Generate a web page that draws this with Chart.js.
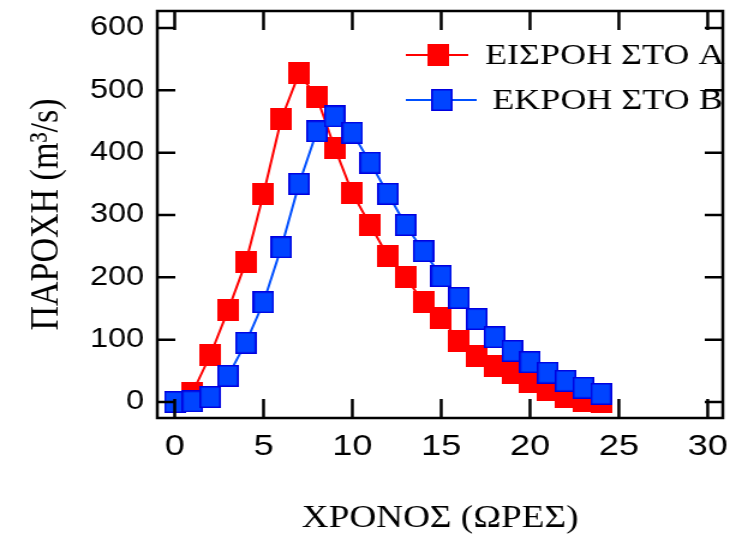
<!DOCTYPE html>
<html>
<head>
<meta charset="utf-8">
<title>ΠΑΡΟΧΗ</title>
<script src="https://cdn.jsdelivr.net/npm/chart.js@4.4.1/dist/chart.umd.min.js"></script>
<style>
  html, body { margin: 0; padding: 0; background: #fff; }
  #grafico { display: block; }
</style>
</head>
<body>
<!-- el original está estirado en horizontal: canvas estrecho, estilo a 736px -->
<canvas id="grafico" width="613" height="534" style="width:736px;height:534px"></canvas>
<script>
// Datos
const horas = [0, 1, 2, 3, 4, 5, 6, 7, 8, 9, 10, 11, 12, 13, 14, 15, 16, 17, 18, 19, 20, 21, 22, 23, 24];
const eisrohA = [0, 15, 75, 147, 224, 334, 454, 527, 489, 408, 335, 284, 234, 200, 160, 135, 98, 74, 58, 46, 32, 19, 8, 2, 0];
const ekrohB = [0, 1, 8, 42, 95, 160, 248, 350, 434, 458, 432, 384, 334, 284, 242, 202, 167, 133, 104, 82, 64, 47, 34, 23, 13];

const ticksX = [0, 5, 10, 15, 20, 25, 30];
const ticksY = [0, 100, 200, 300, 400, 500, 600];

const etiquetas = ['ΕΙΣΡΟΗ ΣΤΟ Α', 'ΕΚΡΟΗ ΣΤΟ Β'];
const tituloX = 'ΧΡΟΝΟΣ (ΩΡΕΣ)';
const tituloY = 'ΠΑΡΟΧΗ (m³/s)';

// Marcador cuadrado (más estrecho en el canvas porque luego se estira)
function crearMarcador(relleno, borde) {
    const c = document.createElement('canvas');
    c.width = 18;
    c.height = 22;
    const ctx = c.getContext('2d');
    ctx.fillStyle = borde;
    ctx.fillRect(0, 0, 18, 22);
    ctx.fillStyle = relleno;
    ctx.fillRect(1.5, 1.5, 15, 19);
    return c;
}

const marcadorRojo = crearMarcador('#ff0000', '#ff0000');
const marcadorAzul = crearMarcador('#0044ff', '#0000e0');

// Quitar el relleno que Chart.js reserva para las etiquetas de los extremos
function fijarTamano(prop, valor) {
    return s => {
        s[prop] = valor;
        s.paddingTop = 0;
        s.paddingBottom = 0;
        s.paddingLeft = 0;
        s.paddingRight = 0;
    };
}

// Marco con marcas hacia dentro en los cuatro lados
const marcoPlugin = {
    id: 'marco',
    afterDatasetsDraw(chart) {
        const { ctx, chartArea: a, scales: { x, y } } = chart;
        ctx.save();
        ctx.strokeStyle = '#000';
        ctx.lineWidth = 2.5;
        ctx.strokeRect(a.left, a.top, a.right - a.left, a.bottom - a.top);
        ctx.beginPath();
        ticksX.forEach(v => {
            const px = x.getPixelForValue(v);
            ctx.moveTo(px, a.bottom);
            ctx.lineTo(px, a.bottom - 19);
            ctx.moveTo(px, a.top);
            ctx.lineTo(px, a.top + 19);
        });
        ticksY.forEach(v => {
            const py = y.getPixelForValue(v);
            ctx.moveTo(a.left, py);
            ctx.lineTo(a.left + 15, py);
            ctx.moveTo(a.right, py);
            ctx.lineTo(a.right - 15, py);
        });
        ctx.stroke();
        ctx.restore();
    }
};

// Leyenda dentro del área del gráfico (línea + marcador + texto)
const posLeyenda = [
    { x1: 338, x2: 390, xm: 365, y: 55, xt: 404 },
    { x1: 338, x2: 397, xm: 368, y: 100, xt: 410 }
];

const leyendaPlugin = {
    id: 'leyenda',
    afterDraw(chart) {
        const ctx = chart.ctx;
        ctx.save();
        chart.data.datasets.forEach((ds, i) => {
            const p = posLeyenda[i];
            ctx.strokeStyle = ds.borderColor;
            ctx.lineWidth = 2;
            ctx.beginPath();
            ctx.moveTo(p.x1, p.y);
            ctx.lineTo(p.x2, p.y);
            ctx.stroke();
            const m = ds.pointStyle;
            ctx.drawImage(m, p.xm - m.width / 2, p.y - m.height / 2);
            ctx.fillStyle = '#000';
            ctx.font = '30px "Liberation Serif"';
            ctx.textBaseline = 'middle';
            ctx.fillText(ds.label, p.xt, p.y + 1);
        });
        ctx.restore();
    }
};

const ctx = document.getElementById('grafico').getContext('2d');
const chart = new Chart(ctx, {
    type: 'line',
    data: {
        datasets: [
            {
                label: etiquetas[0],
                data: horas.map((h, i) => ({ x: h, y: eisrohA[i] })),
                borderColor: '#ff0000',
                borderWidth: 2,
                pointStyle: marcadorRojo,
                pointRadius: 9,
                tension: 0,
                order: 2
            },
            {
                label: etiquetas[1],
                data: horas.map((h, i) => ({ x: h, y: ekrohB[i] })),
                borderColor: '#0050ff',
                borderWidth: 2,
                pointStyle: marcadorAzul,
                pointRadius: 9,
                tension: 0,
                order: 1
            }
        ]
    },
    options: {
        responsive: false,
        devicePixelRatio: 1,
        animation: false,
        layout: { padding: { top: 10, right: 3, left: 0, bottom: 0 } },
        plugins: {
            legend: { display: false },
            tooltip: { enabled: false }
        },
        scales: {
            x: {
                type: 'linear',
                min: -0.98,
                max: 30.85,
                afterBuildTicks: s => { s.ticks = ticksX.map(v => ({ value: v })); },
                afterFit: fijarTamano('height', 116),
                grid: { display: false, drawTicks: false },
                border: { display: false },
                ticks: {
                    padding: 11,
                    color: '#000',
                    font: { family: 'Liberation Sans', size: 30 }
                },
                title: {
                    display: true,
                    text: tituloX,
                    color: '#000',
                    font: { family: 'Liberation Serif', size: 31, lineHeight: 1 },
                    padding: { top: 0, bottom: 0 }
                }
            },
            y: {
                type: 'linear',
                min: -25.6,
                max: 627.2,
                afterBuildTicks: s => { s.ticks = ticksY.map(v => ({ value: v })); },
                afterFit: fijarTamano('width', 131),
                grid: { display: false, drawTicks: false },
                border: { display: false },
                ticks: {
                    padding: 11,
                    color: '#000',
                    font: { family: 'Liberation Sans', size: 27 }
                },
                title: {
                    display: true,
                    text: tituloY,
                    color: '#000',
                    font: { family: 'Liberation Serif', size: 34, lineHeight: 1 },
                    padding: { top: 22, bottom: 0 }
                }
            }
        }
    },
    plugins: [marcoPlugin, leyendaPlugin]
});
</script>
</body>
</html>
